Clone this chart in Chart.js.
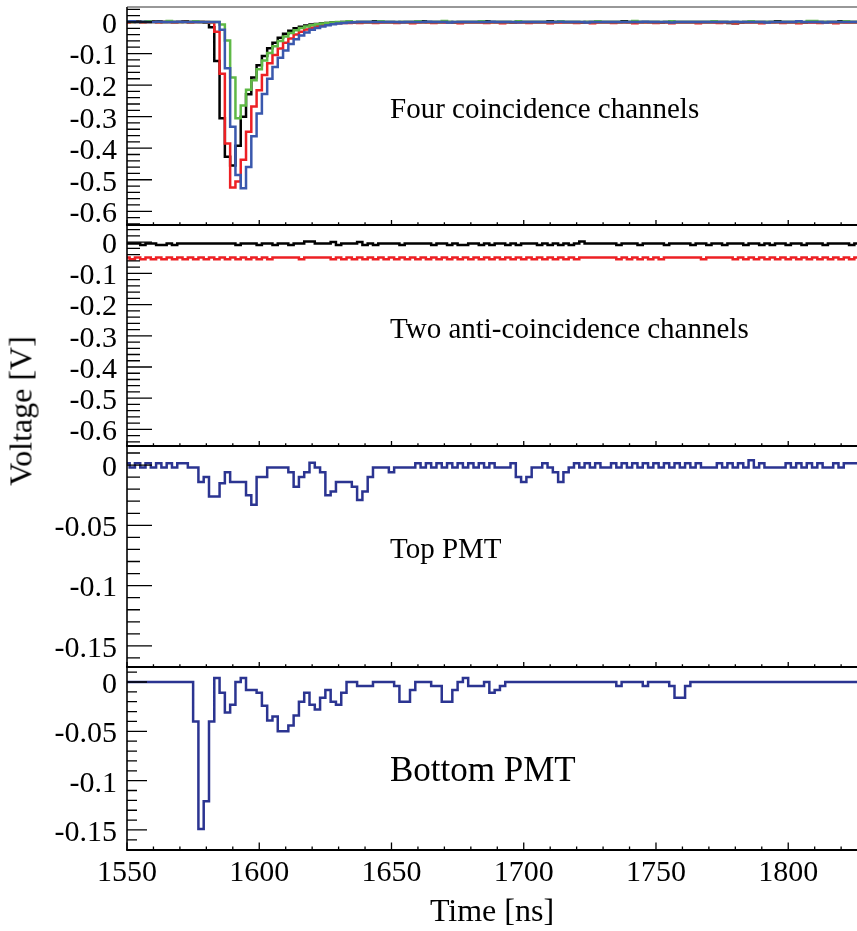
<!DOCTYPE html>
<html>
<head>
<meta charset="utf-8">
<script src="https://cdn.jsdelivr.net/npm/chart.js@4.4.1/dist/chart.umd.min.js"></script>
<style>
  html, body { margin: 0; padding: 0; background: #fff; overflow: hidden; }
  #page { position: relative; width: 857px; height: 931px; }
  canvas { position: absolute; left: 0; }
  .note { position: absolute; left: 390px; font-family: 'Liberation Serif', serif; font-size: 29px; line-height: 30px; white-space: nowrap; color: #000; }
  .note.big { font-size: 35px; line-height: 35px; }
  #ytitle { position: absolute; left: 21px; top: 411px; transform: translate(-50%, -50%) rotate(-90deg);
            font-family: 'Liberation Serif', serif; font-size: 32px; white-space: nowrap; color: #000; }
</style>
</head>
<body>
<div id="page">
  <canvas id="c1" width="857" height="226" style="top:0px"></canvas>
  <canvas id="c2" width="857" height="224" style="top:224px"></canvas>
  <canvas id="c3" width="857" height="223" style="top:445px"></canvas>
  <canvas id="c4" width="857" height="266" style="top:665px"></canvas>
  <div class="note" style="top:93px">Four coincidence channels</div>
  <div class="note" style="top:313px">Two anti-coincidence channels</div>
  <div class="note" style="top:533px">Top PMT</div>
  <div class="note big" style="top:752px">Bottom PMT</div>
  <div id="ytitle">Voltage [V]</div>
</div>
<script>
// histogram bins: 2 ns wide, first bin centred on 1550 ns
const binStart = 1550;
const binWidth = 2;

const xTickLabels = [1550, 1600, 1650, 1700, 1750, 1800];
const yTicksWide = [0, -0.1, -0.2, -0.3, -0.4, -0.5, -0.6];
const yTicksPmt = [0, -0.05, -0.1, -0.15];

// four coincidence channels [V]
const coincBlack = [
  0, 0, 0.002, 0, 0, 0.002, 0.002, 0, 0, 0,
  0, 0.002, 0, 0, 0, -0.002, -0.017, -0.124, -0.305, -0.427,
  -0.455, -0.392, -0.300, -0.229, -0.176, -0.137, -0.108, -0.083, -0.066, -0.050,
  -0.037, -0.028, -0.020, -0.015, -0.011, -0.008, -0.006, -0.004, -0.003, -0.002,
  -0.002, 0, 0, -0.002, 0, 0, 0, 0.002, 0, 0,
  0, -0.002, 0, 0, 0, 0, 0.002, 0, 0, 0,
  0, 0, -0.002, 0, 0, 0, 0, 0, 0.002, 0,
  0, 0, 0, -0.002, 0, 0, 0, 0, 0, 0,
  0.002, 0, 0, 0, 0, 0, -0.002, 0, 0, 0,
  0, 0, 0, 0, 0.002, 0, 0, 0, 0, 0,
  0, -0.002, 0, 0, 0, 0, 0, 0, 0, 0,
  0, 0, 0, 0, -0.003, -0.004, -0.002, 0, 0, 0,
  0, 0, 0, 0.002, 0, 0, 0, 0, -0.002, 0,
  0, 0, 0, 0, 0, 0.002, 0, 0, 0
];
const coincRed = [
  -0.002, 0, 0, -0.002, 0, 0, -0.002, 0, 0, -0.002,
  0, 0, -0.002, 0, 0, 0, -0.002, -0.031, -0.164, -0.385,
  -0.525, -0.506, -0.437, -0.348, -0.268, -0.216, -0.168, -0.131, -0.105, -0.084,
  -0.066, -0.052, -0.040, -0.031, -0.024, -0.018, -0.013, -0.010, -0.007, -0.005,
  -0.004, -0.003, -0.003, -0.002, -0.003, -0.002, -0.002, -0.003, -0.002, -0.002,
  -0.002, -0.003, -0.002, -0.002, -0.004, -0.002, -0.002, -0.002, -0.003, -0.002,
  -0.002, -0.002, -0.002, -0.004, -0.002, -0.002, -0.002, -0.002, -0.003, -0.002,
  -0.002, -0.004, -0.002, -0.002, -0.002, -0.002, -0.003, -0.002, -0.002, -0.002,
  -0.004, -0.002, -0.002, -0.002, -0.002, -0.003, -0.002, -0.002, -0.004, -0.002,
  -0.002, -0.002, -0.003, -0.002, -0.002, -0.002, -0.004, -0.002, -0.002, -0.002,
  -0.003, -0.002, -0.002, -0.004, -0.002, -0.002, -0.002, -0.002, -0.004, -0.002,
  -0.002, -0.002, -0.003, -0.002, -0.002, -0.004, -0.002, -0.002, -0.002, -0.002,
  -0.004, -0.002, -0.002, -0.002, -0.003, -0.002, -0.002, -0.004, -0.002, -0.002,
  -0.002, -0.003, -0.002, -0.002, -0.004, -0.002, -0.002, -0.002, -0.002
];
const coincGreen = [
  0.002, 0, 0, 0, 0.002, 0, 0, 0, 0.003, 0,
  0, 0, 0, 0.002, 0, 0, 0, 0, -0.008, -0.059,
  -0.176, -0.305, -0.265, -0.215, -0.185, -0.150, -0.122, -0.098, -0.077, -0.060,
  -0.046, -0.035, -0.026, -0.019, -0.014, -0.010, -0.007, -0.005, -0.003, -0.002,
  0, 0, 0.002, 0, 0, 0, 0, 0, 0.002, 0,
  0, 0, 0, 0, 0, 0.002, 0, 0, 0, 0,
  0.003, 0, 0, 0, 0, 0, 0, 0.002, 0, 0,
  0, 0, 0, 0, 0.002, 0, 0, 0, 0, 0,
  0, 0, 0.002, 0, 0, 0, 0, 0, 0, 0.002,
  0, 0, 0, 0, 0, 0, 0.003, 0, 0, 0,
  0, 0, 0, 0.002, 0, 0, 0, 0, 0, 0,
  0, 0.002, 0, 0, 0, 0, 0, 0, 0.002, 0,
  0, 0, 0, 0, 0, 0, 0, 0, 0, 0.003,
  0.003, 0, 0, 0, 0, 0, 0.002, 0, 0
];
const coincBlue = [
  0.001, 0.002, 0, 0.001, 0, 0, 0.001, 0, 0, 0,
  0.001, 0, 0, 0, 0, 0, 0, 0, -0.025, -0.147,
  -0.332, -0.485, -0.527, -0.460, -0.362, -0.290, -0.228, -0.180, -0.143, -0.113,
  -0.090, -0.070, -0.055, -0.043, -0.033, -0.025, -0.019, -0.014, -0.010, -0.007,
  -0.005, -0.003, -0.002, -0.001, 0, 0, 0, 0, 0, 0,
  0, 0, -0.001, 0, 0, 0, 0, 0.001, 0, 0,
  0, -0.002, 0, 0, 0, 0, 0, 0, 0, 0.001,
  0, 0, 0, 0, -0.001, 0, 0, 0, 0, 0,
  0, 0, 0.001, 0, 0, 0, 0, -0.002, 0, 0,
  0, 0, 0, 0, 0, 0, 0, 0, 0.001, 0,
  0, 0, 0, -0.002, 0, 0, 0, 0, 0, 0,
  0, 0, 0, 0, 0, 0.001, 0, 0, 0, 0,
  0, -0.002, 0, 0, 0, 0, 0, 0.002, 0, 0,
  0, 0, -0.002, 0, 0, 0, 0, 0, 0
];

// two anti-coincidence channels [V]
const antiBlack = [
  -0.004, -0.004, -0.004, -0.009, -0.004, -0.004, -0.009, -0.009, -0.004, -0.009,
  -0.004, -0.004, -0.004, -0.004, -0.004, -0.004, -0.004, -0.004, -0.004, -0.004,
  -0.004, -0.009, -0.004, -0.004, -0.004, -0.009, -0.004, -0.004, -0.009, -0.004,
  -0.004, -0.009, -0.004, -0.004, 0.002, 0.002, -0.004, -0.004, -0.004, 0.001,
  -0.009, -0.004, -0.004, -0.004, 0.001, -0.009, -0.004, -0.009, -0.004, -0.004,
  -0.004, -0.004, -0.009, -0.004, -0.004, -0.004, -0.004, -0.004, -0.009, -0.004,
  -0.004, -0.009, -0.004, -0.009, -0.009, -0.004, -0.004, -0.009, -0.004, -0.009,
  -0.004, -0.004, -0.009, -0.004, -0.009, -0.004, -0.004, -0.004, -0.009, -0.004,
  -0.009, -0.004, -0.009, -0.004, -0.009, -0.004, 0.002, -0.004, -0.004, -0.004,
  -0.004, -0.004, -0.004, -0.009, -0.004, -0.004, -0.004, -0.009, -0.004, -0.004,
  -0.004, -0.004, -0.009, -0.004, -0.004, -0.004, -0.004, -0.009, -0.004, -0.004,
  -0.009, -0.004, -0.004, -0.009, -0.004, -0.004, -0.004, -0.009, -0.004, -0.004,
  -0.009, -0.004, -0.009, -0.004, -0.004, -0.009, -0.004, -0.004, -0.009, -0.004,
  -0.004, -0.004, -0.009, -0.004, -0.004, -0.004, -0.004, -0.009, -0.004
];
const antiRed = [
  -0.049, -0.055, -0.049, -0.055, -0.049, -0.055, -0.049, -0.055, -0.049, -0.055,
  -0.049, -0.055, -0.049, -0.055, -0.049, -0.055, -0.049, -0.055, -0.049, -0.055,
  -0.049, -0.055, -0.049, -0.055, -0.049, -0.055, -0.049, -0.055, -0.049, -0.049,
  -0.049, -0.049, -0.049, -0.055, -0.049, -0.049, -0.049, -0.049, -0.049, -0.055,
  -0.049, -0.055, -0.049, -0.055, -0.049, -0.055, -0.049, -0.055, -0.049, -0.055,
  -0.049, -0.055, -0.049, -0.055, -0.049, -0.055, -0.049, -0.055, -0.049, -0.055,
  -0.049, -0.055, -0.049, -0.055, -0.049, -0.055, -0.049, -0.055, -0.049, -0.055,
  -0.049, -0.055, -0.049, -0.055, -0.049, -0.055, -0.049, -0.055, -0.049, -0.055,
  -0.049, -0.055, -0.049, -0.055, -0.049, -0.055, -0.049, -0.049, -0.049, -0.049,
  -0.049, -0.049, -0.049, -0.055, -0.049, -0.055, -0.049, -0.055, -0.049, -0.055,
  -0.049, -0.055, -0.049, -0.049, -0.049, -0.049, -0.049, -0.049, -0.049, -0.055,
  -0.049, -0.049, -0.049, -0.049, -0.049, -0.055, -0.049, -0.055, -0.049, -0.055,
  -0.049, -0.055, -0.049, -0.055, -0.049, -0.055, -0.049, -0.055, -0.049, -0.055,
  -0.049, -0.055, -0.049, -0.055, -0.049, -0.055, -0.049, -0.055, -0.049
];

// top PMT [V]
const topPmt = [
  0.0015, -0.002, 0.0015, -0.002, 0.0015, -0.002, 0.0015, -0.002, 0.0015, -0.002,
  0.0015, 0.0015, -0.002, -0.002, -0.014, -0.010, -0.026, -0.026, -0.015, -0.006,
  -0.014, -0.014, -0.014, -0.025, -0.033, -0.010, -0.010, -0.002, -0.002, -0.002,
  -0.002, -0.006, -0.018, -0.010, -0.006, 0.002, -0.002, -0.006, -0.025, -0.022,
  -0.014, -0.014, -0.014, -0.018, -0.029, -0.022, -0.010, -0.002, -0.002, -0.002,
  -0.006, -0.002, -0.002, -0.002, -0.002, 0.0015, -0.002, 0.0015, -0.002, 0.0015,
  -0.002, 0.0015, -0.002, 0.0015, -0.002, 0.0015, -0.002, 0.0015, -0.002, 0.0015,
  -0.002, -0.002, -0.002, 0.0015, -0.010, -0.014, -0.010, -0.002, -0.002, 0.0015,
  -0.002, -0.006, -0.014, -0.006, -0.002, 0.0015, -0.002, 0.0015, -0.002, 0.0015,
  -0.002, -0.002, 0.0015, -0.002, 0.0015, -0.002, 0.0015, -0.002, 0.0015, -0.002,
  0.0015, -0.002, 0.0015, -0.002, 0.0015, -0.002, 0.0015, -0.002, 0.0015, -0.002,
  -0.002, -0.002, 0.0015, -0.002, 0.0015, -0.002, 0.0015, -0.002, 0.004, -0.002,
  0.0015, -0.002, -0.002, -0.002, -0.002, 0.0015, -0.002, 0.0015, -0.002, 0.0015,
  -0.002, 0.0015, -0.002, -0.002, 0.0015, -0.002, 0.0015, 0.0015, 0.0015
];

// bottom PMT [V]
const bottomPmt = [
  0, 0, 0, 0, 0, 0, 0, 0, 0, 0,
  0, 0, 0, -0.040, -0.149, -0.121, -0.040, 0.004, -0.011, -0.031,
  -0.023, 0, 0.004, -0.008, -0.008, -0.011, -0.024, -0.039, -0.035, -0.050,
  -0.050, -0.044, -0.034, -0.020, -0.011, -0.023, -0.028, -0.016, -0.008, -0.020,
  -0.023, -0.011, 0, 0, -0.004, -0.004, -0.004, 0, 0, 0,
  0, -0.004, -0.020, -0.020, -0.008, 0, 0, 0, -0.004, -0.004,
  -0.020, -0.020, -0.008, 0, 0.004, -0.004, -0.004, -0.004, 0, -0.011,
  -0.008, -0.004, 0, 0, 0, 0, 0, 0, 0, 0,
  0, 0, 0, 0, 0, 0, 0, 0, 0, 0,
  0, 0, 0, -0.004, 0, 0, 0, 0, -0.004, 0,
  0, 0, 0, -0.004, -0.016, -0.016, -0.004, 0, 0, 0,
  0, 0, 0, 0, 0, 0, 0, 0, 0, 0,
  0, 0, 0, 0, 0, 0, 0, 0, 0, 0,
  0, 0, 0, 0, 0, 0, 0, 0, 0
];

const serif = "'Liberation Serif', 'Times New Roman', serif";

const panels = [
  { id: 'c1', padTop: 7, padBottom: 1, yMin: -0.6435, yMax: 0.0475, yMajor: yTicksWide, yMinorStep: 0.02,
    yMajorLen: 25, yMinorLen: 13, drawTop: true, bottom: false,
    series: [
      { values: coincBlue, color: '#3a58ad' },
      { values: coincGreen, color: '#5fb946' },
      { values: coincRed, color: '#ed2024' },
      { values: coincBlack, color: '#000000' }
    ] },
  { id: 'c2', padTop: 1, padBottom: 2, yMin: -0.6532, yMax: 0.0551, yMajor: yTicksWide, yMinorStep: 0.02,
    yMajorLen: 25, yMinorLen: 13, drawTop: false, bottom: false,
    series: [
      { values: antiBlack, color: '#000000' },
      { values: antiRed, color: '#ed2024' }
    ] },
  { id: 'c3', padTop: 1, padBottom: 1, yMin: -0.1675, yMax: 0.0158, yMajor: yTicksPmt, yMinorStep: 0.01,
    yMajorLen: 25, yMinorLen: 13, drawTop: false, bottom: false,
    series: [ { values: topPmt, color: '#2b3491' } ] },
  { id: 'c4', padTop: 1, padBottom: 0, yMin: -0.1703, yMax: 0.0162, yMajor: yTicksPmt, yMinorStep: 0.01,
    yMajorLen: 20, yMinorLen: 10, drawTop: false, bottom: true,
    series: [ { values: bottomPmt, color: '#2b3491' } ] }
];

function framePlugin(p) {
  return {
    id: 'frame',
    afterDatasetsDraw(chart) {
      const { ctx, chartArea: a, scales: { x, y } } = chart;
      ctx.save();
      ctx.strokeStyle = '#000';
      ctx.lineWidth = 1.3;
      ctx.beginPath();
      // y ticks, pointing into the plot
      const k0 = Math.ceil(p.yMin / p.yMinorStep - 1e-6);
      const k1 = Math.floor(p.yMax / p.yMinorStep + 1e-6);
      for (let k = k0; k <= k1; k++) {
        const py = y.getPixelForValue(k * p.yMinorStep);
        ctx.moveTo(a.left, py);
        ctx.lineTo(a.left + p.yMinorLen, py);
      }
      p.yMajor.forEach(v => {
        const py = y.getPixelForValue(v);
        ctx.moveTo(a.left, py);
        ctx.lineTo(a.left + p.yMajorLen, py);
      });
      // x ticks along the bottom edge
      const minorLen = p.bottom ? 3.5 : 2.7;
      const majorLen = p.bottom ? 7.5 : 5;
      for (let t = 1550; t <= 1826; t += 10) {
        const px = x.getPixelForValue(t);
        const len = (t % 50 === 0) ? majorLen : minorLen;
        ctx.moveTo(px, a.bottom);
        ctx.lineTo(px, a.bottom - len);
      }
      ctx.stroke();
      // frame
      ctx.lineWidth = 1.6;
      ctx.beginPath();
      ctx.moveTo(a.left, a.top);
      ctx.lineTo(a.left, a.bottom);
      ctx.stroke();
      ctx.lineWidth = 2;
      ctx.beginPath();
      ctx.moveTo(a.left - 0.8, a.bottom);
      ctx.lineTo(a.right, a.bottom);
      ctx.stroke();
      if (p.drawTop) {
        ctx.lineWidth = 1.2;
        ctx.strokeStyle = '#333';
        ctx.beginPath();
        ctx.moveTo(a.left, a.top);
        ctx.lineTo(a.right, a.top);
        ctx.stroke();
      }
      ctx.restore();
    }
  };
}

panels.forEach(p => {
  new Chart(document.getElementById(p.id), {
    type: 'line',
    data: {
      datasets: p.series.map(s => ({
        data: s.values.map((v, i) => ({ x: binStart + i * binWidth, y: v })),
        borderColor: s.color,
        borderWidth: 2.5,
        pointRadius: 0,
        stepped: 'middle',
        fill: false
      }))
    },
    options: {
      responsive: false,
      animation: false,
      devicePixelRatio: 1,
      layout: { padding: { top: p.padTop, bottom: p.padBottom, left: 0, right: 0 } },
      plugins: { legend: { display: false }, tooltip: { enabled: false } },
      scales: {
        x: {
          type: 'linear',
          min: 1550,
          max: 1826,
          grid: { display: false, drawTicks: false },
          border: { display: false },
          ticks: { display: p.bottom, autoSkip: false, maxRotation: 0, color: '#000', padding: 5,
                   font: { family: serif, size: 30 }, callback: v => String(v) },
          title: { display: p.bottom, text: 'Time [ns]', color: '#000',
                   font: { family: serif, size: 32, lineHeight: 1 }, padding: { top: 0, bottom: 2 } },
          afterBuildTicks: s => { s.ticks = xTickLabels.map(v => ({ value: v })); },
          afterFit: s => { s.height = p.bottom ? 81 : 0; s.paddingLeft = 0; s.paddingRight = 0; }
        },
        y: {
          min: p.yMin,
          max: p.yMax,
          grid: { display: false, drawTicks: false },
          border: { display: false },
          ticks: { autoSkip: false, color: '#000', padding: 10, labelOffset: 3,
                   font: { family: serif, size: 30 }, callback: v => String(v) },
          afterBuildTicks: s => { s.ticks = p.yMajor.map(v => ({ value: v })); },
          afterFit: s => { s.width = 127; s.paddingTop = 0; s.paddingBottom = 0; }
        }
      }
    },
    plugins: [framePlugin(p)]
  });
});
</script>
</body>
</html>
